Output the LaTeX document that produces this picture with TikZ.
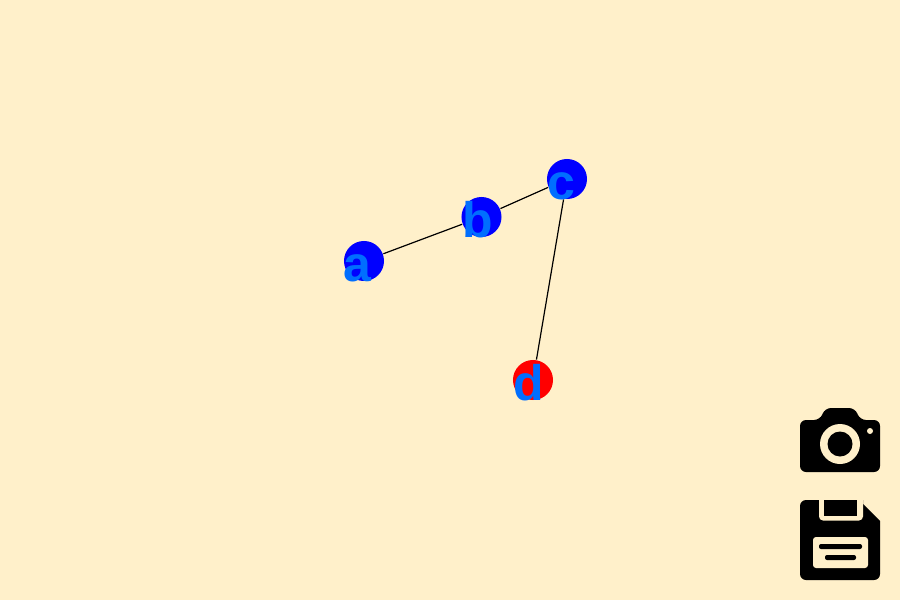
\documentclass[tikz,border=0pt]{standalone}
\usepackage{fontspec}
\setmainfont{Liberation Sans}
\usetikzlibrary{positioning}
\definecolor{paper}{HTML}{FFF0CA}
\definecolor{labelblue}{HTML}{006EFF}
\tikzset{
	vertex/.style={circle,inner sep=0pt,minimum size=0.4cm},
	vertexlabel/.style={anchor=base,inner sep=0pt,text=labelblue,font=\fontsize{14.2}{14.2}\selectfont\bfseries},
	link/.style={line width=0.012cm,black},
	iconink/.style={fill=black},
	iconpaper/.style={fill=paper}
}
\begin{document}
\begin{tikzpicture}[x=0.01cm,y=-0.01cm]
	\useasboundingbox (0,0) rectangle (900,600);
	\fill[paper] (0,0) rectangle (900,600);
	\path
	(364,261) node(a) [vertex,fill=blue] {}
	(481.5,217) node(b) [vertex,fill=blue] {}
	(567,179) node(c) [vertex,fill=blue] {}
	(533,380) node(d) [vertex,fill=red] {};
	\draw[link] (a) -- (b);
	\draw[link] (b) -- (c);
	\draw[link] (c) -- (d);
	\path
	(357.5,281) node(la) [vertexlabel] {a}
	(478,237) node(lb) [vertexlabel] {b}
	(561.5,199) node(lc) [vertexlabel] {c}
	(528.5,400) node(ld) [vertexlabel] {d};
	% camera
	\fill[iconink,rounded corners=0.06cm] (800,420) -- (820,420) -- (825,408) -- (855,408) -- (860,420) -- (880,420) -- (880,472) -- (800,472) -- cycle;
	\fill[iconpaper] (840,444) circle (20);
	\fill[iconink] (840,444) circle (12.5);
	\fill[iconpaper] (870,431) circle (3);
	% floppy
	\fill[iconink] (806,500) -- (863,500) -- (863,504) -- (880,521) -- (880,574) arc (0:90:6) -- (806,580) arc (90:180:6) -- (800,506) arc (180:270:6) -- cycle;
	\fill[iconpaper] (819,500) -- (863,500) -- (863,516.5) arc (0:90:4) -- (823,520.5) arc (90:180:4) -- cycle;
	\fill[iconink] (824,500) rectangle (857,515.5);
	\fill[iconpaper,rounded corners=0.03cm] (813,537) rectangle (868,568);
	\fill[iconink,rounded corners=0.02cm] (819,544) rectangle (862,549);
	\fill[iconink,rounded corners=0.02cm] (825,555) rectangle (856,560);
\end{tikzpicture}
\end{document}
